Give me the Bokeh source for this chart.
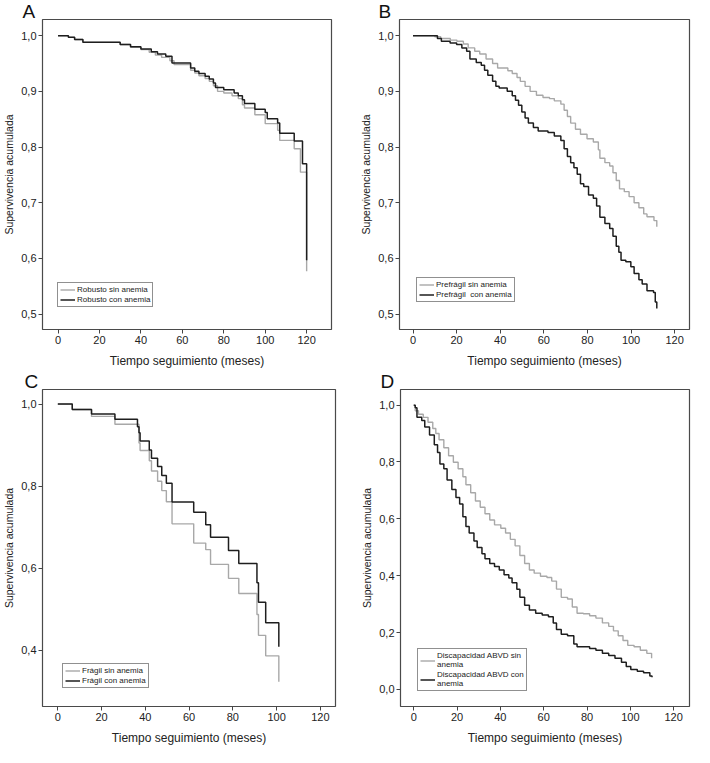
from bokeh.plotting import figure
from bokeh.models import Range1d, FixedTicker, Legend, LegendItem
from bokeh.layouts import row, column
from bokeh.embed import file_html
from bokeh.resources import INLINE

FONT = "Liberation Sans"
GRAY = "#a8a8a8"
DARK = "#1e1e1e"

x_ticks = [0, 20, 40, 60, 80, 100, 120]

# ---------- Panel A ----------
a_sin_t = [0, 5, 8, 12, 30, 35, 40, 44, 47, 50, 54, 56, 64, 66, 68, 71, 73, 75, 77, 80, 84, 87, 89, 90, 95, 100, 106, 107, 114, 117, 120]
a_sin_s = [1.0, 0.997, 0.993, 0.988, 0.984, 0.979, 0.975, 0.970, 0.965, 0.961, 0.955, 0.948, 0.938, 0.933, 0.928, 0.923, 0.918, 0.910, 0.900, 0.897, 0.892, 0.887, 0.876, 0.870, 0.858, 0.842, 0.830, 0.812, 0.797, 0.755, 0.577]
a_con_t = [0, 5, 8, 12, 30, 35, 40, 45, 48, 52, 55, 64, 66, 68, 71, 73, 75, 76, 80, 85, 87, 89, 90, 95, 100, 101, 106, 107, 114, 118, 120]
a_con_s = [1.0, 0.997, 0.993, 0.988, 0.984, 0.980, 0.976, 0.971, 0.967, 0.963, 0.951, 0.942, 0.936, 0.932, 0.927, 0.922, 0.915, 0.907, 0.903, 0.897, 0.892, 0.885, 0.878, 0.868, 0.862, 0.851, 0.843, 0.825, 0.811, 0.770, 0.597]
a_labels = ["Robusto sin anemia", "Robusto con anemia"]
a_yticks = [0.5, 0.6, 0.7, 0.8, 0.9, 1.0]

# ---------- Panel B ----------
b_sin_t = [0, 10, 12.7, 17.1, 20.1, 23.1, 25.3, 28.3, 30.6, 33.5, 36.5, 38.8, 43.5, 45.5, 47.7, 49.2, 51.4, 53.7, 56.6, 59.6, 62.6, 64.8, 67.8, 69.3, 70.8, 72.3, 74.5, 76.8, 79.8, 82.7, 85.0, 85.7, 88.0, 90.2, 91.7, 93.2, 94.7, 96.9, 99.1, 101.4, 103.6, 105.8, 107.3, 110.5, 111.8]
b_sin_s = [1.0, 0.998, 0.995, 0.992, 0.990, 0.985, 0.978, 0.972, 0.967, 0.958, 0.950, 0.942, 0.937, 0.932, 0.925, 0.918, 0.909, 0.900, 0.893, 0.889, 0.887, 0.883, 0.877, 0.866, 0.855, 0.843, 0.832, 0.823, 0.815, 0.809, 0.795, 0.780, 0.772, 0.766, 0.754, 0.740, 0.725, 0.720, 0.711, 0.700, 0.691, 0.680, 0.675, 0.668, 0.657]
b_con_t = [0, 11.2, 13, 17, 20, 22.4, 24.6, 26.1, 29, 31.3, 32.8, 34.3, 36.5, 38, 39.5, 43.2, 45.5, 47, 48.4, 49.9, 51.4, 52.9, 55.2, 57.4, 61.9, 64.8, 67.8, 69.3, 70.8, 72.3, 73.8, 75.3, 76.8, 78.3, 80.5, 82.7, 84.2, 85.7, 88, 90.2, 91.7, 93.2, 94.4, 95.4, 97.6, 99.9, 101.4, 103.6, 105.1, 107.3, 110.3, 111.1, 111.8]
b_con_s = [1.0, 0.995, 0.990, 0.987, 0.984, 0.978, 0.972, 0.958, 0.952, 0.947, 0.938, 0.929, 0.918, 0.909, 0.906, 0.900, 0.892, 0.884, 0.875, 0.863, 0.852, 0.843, 0.835, 0.829, 0.826, 0.820, 0.812, 0.797, 0.783, 0.772, 0.763, 0.751, 0.734, 0.729, 0.714, 0.708, 0.694, 0.674, 0.663, 0.654, 0.640, 0.622, 0.611, 0.597, 0.594, 0.585, 0.573, 0.562, 0.554, 0.542, 0.539, 0.522, 0.510]
b_labels = ["Prefrágil sin anemia", "Prefrágil  con anemia"]
b_yticks = [0.5, 0.6, 0.7, 0.8, 0.9, 1.0]

# ---------- Panel C ----------
c_sin_t = [0, 6.6, 15.4, 26.1, 37.1, 37.6, 41.8, 42.8, 45.6, 47.5, 49.6, 52.2, 62.1, 67.6, 69.8, 78, 82.7, 91, 91.7, 95, 101]
c_sin_s = [1.0, 0.987, 0.970, 0.951, 0.905, 0.887, 0.862, 0.837, 0.812, 0.789, 0.762, 0.708, 0.661, 0.645, 0.609, 0.575, 0.538, 0.487, 0.436, 0.386, 0.323]
c_con_t = [0, 6.6, 15.4, 26.1, 36.4, 37.1, 37.6, 41.8, 42.8, 45.6, 47.5, 49.6, 52.2, 62.1, 67.6, 69.8, 78, 82.7, 91, 91.7, 95, 101]
c_con_s = [1.0, 0.987, 0.976, 0.963, 0.945, 0.930, 0.910, 0.888, 0.868, 0.848, 0.826, 0.807, 0.761, 0.736, 0.706, 0.675, 0.643, 0.611, 0.564, 0.517, 0.467, 0.408]
c_labels = ["Frágil sin anemia", "Frágil con anemia"]
c_yticks = [0.4, 0.6, 0.8, 1.0]

# ---------- Panel D ----------
d_sin_t = [0, 0.7, 2.2, 4.4, 6.6, 8.8, 10.2, 11.7, 13.9, 16.1, 18.3, 20.5, 22.7, 24.1, 26.3, 28.5, 30.7, 32.9, 35.1, 37.3, 40.2, 42.4, 44.6, 46.8, 49.0, 51.2, 53.4, 55.6, 58.5, 61.5, 63.7, 65.9, 68.1, 71.0, 73.2, 75.4, 78.3, 81.2, 84.1, 87.1, 90.0, 92.2, 94.4, 96.6, 98.8, 101.7, 104.6, 107.6, 109.8]
d_sin_s = [1.0, 0.980, 0.968, 0.957, 0.940, 0.918, 0.900, 0.878, 0.850, 0.822, 0.799, 0.776, 0.748, 0.720, 0.692, 0.663, 0.641, 0.618, 0.596, 0.579, 0.567, 0.550, 0.528, 0.505, 0.471, 0.443, 0.420, 0.409, 0.398, 0.394, 0.381, 0.353, 0.324, 0.318, 0.290, 0.268, 0.266, 0.259, 0.251, 0.234, 0.222, 0.206, 0.189, 0.172, 0.155, 0.150, 0.138, 0.127, 0.110]
d_con_t = [0, 0.7, 1.5, 3.7, 5.1, 7.3, 9.5, 11.0, 12.1, 13.9, 15.4, 17.6, 19.5, 21.2, 22.7, 24.1, 25.6, 27.8, 29.3, 31.5, 32.9, 35.1, 37.3, 39.5, 41.7, 43.9, 45.4, 47.6, 49.0, 51.2, 53.4, 56.3, 59.3, 62.2, 64.4, 65.9, 68.1, 71.0, 73.9, 75.4, 81.2, 84.1, 87.1, 90.0, 92.9, 95.9, 98.1, 100.2, 103.2, 106.1, 109.0, 110.0]
d_con_s = [1.0, 0.991, 0.957, 0.946, 0.923, 0.895, 0.861, 0.833, 0.793, 0.776, 0.737, 0.703, 0.675, 0.652, 0.607, 0.573, 0.550, 0.522, 0.499, 0.477, 0.460, 0.443, 0.432, 0.420, 0.403, 0.392, 0.375, 0.352, 0.324, 0.296, 0.279, 0.268, 0.262, 0.256, 0.234, 0.211, 0.194, 0.189, 0.160, 0.150, 0.144, 0.138, 0.127, 0.119, 0.110, 0.096, 0.081, 0.070, 0.064, 0.059, 0.047, 0.043]
d_labels = ["Discapacidad ABVD sin\nanemia", "Discapacidad ABVD con\nanemia"]
d_yticks = [0.0, 0.2, 0.4, 0.6, 0.8, 1.0]


def fmt(v):
    return ("%.1f" % v).replace(".", ",")


def make_panel(letter, sin_t, sin_s, con_t, con_s, labels, yticks,
               xr, yr, width, height, mb, leg_xy, letter_dx):
    left, right, top, bottom = mb
    p = figure(width=width, height=height, x_range=Range1d(*xr), y_range=Range1d(*yr),
               output_backend="svg", toolbar_location=None, title=letter,
               min_border_left=left, min_border_right=right,
               min_border_top=top, min_border_bottom=bottom)
    p.title.align = "left"
    p.title.offset = letter_dx
    p.title.standoff = -4
    p.title.text_font = FONT
    p.title.text_font_size = "19px"
    p.title.text_font_style = "normal"
    p.title.text_color = "#111111"
    p.title.text_line_height = 0.8

    p.background_fill_color = "white"
    p.border_fill_color = "white"
    p.grid.visible = False
    p.outline_line_color = "#4a4a4a"
    p.outline_line_width = 1.2

    r_sin = p.step(sin_t, sin_s, mode="after", line_color=GRAY, line_width=1.4)
    r_con = p.step(con_t, con_s, mode="after", line_color=DARK, line_width=1.5)

    for ax in (p.xaxis[0], p.yaxis[0]):
        ax.axis_line_color = None
        ax.major_tick_in = 0
        ax.major_tick_out = 4
        ax.major_tick_line_color = "#444444"
        ax.minor_tick_line_color = None
        ax.major_label_text_font = FONT
        ax.major_label_text_font_size = "11px"
        ax.major_label_text_color = "#222222"
        ax.axis_label_text_font = FONT
        ax.axis_label_text_font_style = "normal"
        ax.axis_label_text_color = "#222222"
        ax.major_label_standoff = 2

    p.xaxis.ticker = FixedTicker(ticks=x_ticks)
    p.xaxis.axis_label = "Tiempo seguimiento (meses)"
    p.xaxis.axis_label_text_font_size = "12px"
    p.xaxis.axis_label_standoff = 7

    p.yaxis.ticker = FixedTicker(ticks=yticks)
    p.yaxis.major_label_overrides = {v: fmt(v) for v in yticks}
    p.yaxis.axis_label = "Supervivencia acumulada"
    p.yaxis.axis_label_text_font_size = "10.5px"
    p.yaxis.axis_label_standoff = 3

    legend = Legend(items=[LegendItem(label=labels[0], renderers=[r_sin]),
                           LegendItem(label=labels[1], renderers=[r_con])],
                    location=leg_xy)
    legend.label_text_font = FONT
    legend.label_text_font_size = "8px"
    legend.label_text_color = "#222222"
    legend.label_height = 9
    legend.glyph_height = 9
    legend.glyph_width = 15
    legend.label_standoff = 2
    legend.padding = 2
    legend.spacing = 1
    legend.margin = 0
    legend.border_line_color = "#222222"
    legend.border_line_width = 1
    legend.background_fill_alpha = 1.0
    p.add_layout(legend)
    return p


pA = make_panel("A", a_sin_t, a_sin_s, a_con_t, a_con_s, a_labels, a_yticks,
                (-7.5, 132.0), (0.4725, 1.029), 344, 370, (34, 13, 14, 40), (15, 22), -20)
pB = make_panel("B", b_sin_t, b_sin_s, b_con_t, b_con_s, b_labels, b_yticks,
                (-6.2, 126.8), (0.4725, 1.029), 350, 370, (55, 5, 14, 40), (17, 27), -21)
pC = make_panel("C", c_sin_t, c_sin_s, c_con_t, c_con_s, c_labels, c_yticks,
                (-7.0, 126.9), (0.2625, 1.0356), 343, 377, (35, 8, 14, 40), (20, 18), -18)
pD = make_panel("D", d_sin_t, d_sin_s, d_con_t, d_con_s, d_labels, d_yticks,
                (-6.1, 127.3), (-0.06, 1.055), 351, 377, (57, 5, 14, 40), (17, 15), -20)

layout = column(row(pA, pB), row(pC, pD))
open("out.html", "w").write(file_html(layout, INLINE))
